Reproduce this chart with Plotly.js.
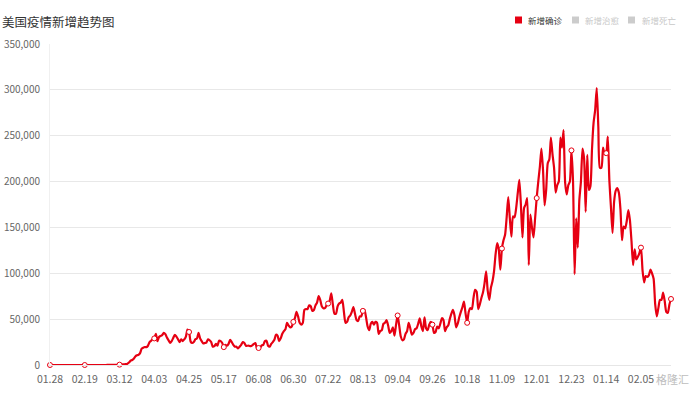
<!DOCTYPE html>
<html>
<head>
<meta charset="utf-8">
<script src="https://cdn.plot.ly/plotly-3.0.1.min.js"></script>
<style>html,body{margin:0;padding:0;background:#fff;}#chart{width:692px;height:393px;}</style>
</head>
<body>
<div id="chart"></div>
<script>
// Daily new confirmed cases (USA), 2020-01-28 .. 2021-02-24
const startDate = '2020-01-28';
const jan2020 = [0,0,1,0];
const feb2020 = [1,1,3,0,1,0,0,0,0,0,1,1,0,0,0,0,0,0,0,0,18,0,0,0,2,0,1,0,6];
const mar2020 = [8,23,20,31,70,45,117,118,179,290,292,387,513,631,764,1040,1490,2740,4630,5420,6790,9350,10500,11000,12900,17800,18900,19600,19500,21000,24900];
const apr2020 = [26500,28300,29000,34000,26000,30500,31700,32600,35000,33700,29900,27000,24000,26000,29500,33000,31000,28000,25000,28000,26000,28000,31000,38500,36000,25500,24000,25000,28000,29000];
const may2020 = [35000,29000,26000,23500,24000,24500,28000,27000,25000,20000,20500,23000,21000,26500,26000,24000,19500,22000,21000,23000,27500,25000,22000,20000,20000,18000,20000,22000,25000,24000,21000];
const jun2020 = [21000,21000,20500,21500,23000,24000,18000,18500,19000,21500,22000,26000,26500,21000,20000,23000,25000,27500,33000,32000,26000,29000,34000,37000,39000,46000,43000,41000,42000,47000];
const jul2020 = [51000,58000,53000,46000,44000,46000,60000,61000,61000,65000,64000,59000,60000,65000,68000,75000,71000,64000,62000,62000,65000,67000,70000,78000,66000,56000,56000,64000,67000,68000,71000];
const aug2020 = [58000,46000,47000,52000,54000,58000,63000,56000,49000,48000,53000,53000,59000,60000,52000,42000,38000,45000,47000,44000,47000,46000,34000,37000,38000,45000,46000,49000,43000,35000,37000];
const sep2020 = [41000,32000,44000,54000,43000,31000,27000,28000,34000,37000,46000,40000,33000,35000,39000,40000,45000,51000,42000,37000,52000,40000,38000,44000,47000,44000,35000,36000,42000,40000];
const oct2020 = [45000,51000,49000,37000,41000,43000,50000,56000,60000,54000,41000,45000,52000,58000,63000,69000,56000,46000,58000,62000,61000,73000,82000,80000,61000,66000,73000,79000,89000,102000,81000];
const nov2020 = [71000,84000,91000,102000,121000,133000,126000,104000,127000,136000,142000,161000,183000,160000,140000,162000,161000,171000,187000,202000,175000,139000,171000,175000,182000,109000,164000,150000,139000,160000];
const dec2020 = [182000,200000,216000,236000,213000,174000,191000,220000,224000,248000,230000,215000,188000,196000,200000,248000,237000,256000,199000,186000,196000,200000,234000,200000,99000,160000,128000,180000,200000,236000,225000];
const jan2021 = [167000,229000,191000,195000,235000,264000,278000,302000,260000,215000,215000,237000,230000,231000,249000,201000,172000,144000,178000,190000,193000,188000,170000,136000,151000,149000,157000,169000,158000,135000,109000];
const feb2021 = [126000,115000,118000,122000,128000,103000,90000,97000,96000,98000,104000,100000,94000,66000,53000,62000,71000,71000,79000,70000,58000,57000,66000,72000];

const seriesNames = ['新增确诊', '新增治愈', '新增死亡'];
const chartTitle = '美国疫情新增趋势图';
const watermark = '格隆汇';
const yTickVals = [0,50000,100000,150000,200000,250000,300000,350000];
const yTickText = ['0','50,000','100,000','150,000','200,000','250,000','300,000','350,000'];

const values = [].concat(jan2020,feb2020,mar2020,apr2020,may2020,jun2020,jul2020,aug2020,sep2020,oct2020,nov2020,dec2020,jan2021,feb2021);

function isoDate(i){
  const d = new Date(Date.UTC(2020,0,28) + i*86400000);
  return d.toISOString().slice(0,10);
}
const dates = values.map((v,i)=>isoDate(i));

// symbols shown at the label interval (every 22 days) and at the last point
const labelStep = 22;
const mIdx = [];
for (let i=0;i<values.length;i+=labelStep) mIdx.push(i);
if (mIdx[mIdx.length-1] !== values.length-1) mIdx.push(values.length-1);

const RED = '#e60012';
const FONT = 'Noto Sans CJK SC, Noto Sans, sans-serif';

const traces = [
  {x: dates, y: values, type:'scatter', mode:'lines', name: seriesNames[0],
   line:{color:RED, width:2.2, shape:'spline', smoothing:0.6}, hoverinfo:'x+y', showlegend:false, cliponaxis:false},
  {x: mIdx.map(i=>dates[i]), y: mIdx.map(i=>values[i]), type:'scatter', mode:'markers',
   marker:{symbol:'circle', size:5, color:'#ffffff', line:{color:RED, width:1}}, showlegend:false, hoverinfo:'skip', cliponaxis:false}
];

const layout = {
  width:692, height:393,
  margin:{l:50, r:21, t:44, b:28},
  paper_bgcolor:'#fff', plot_bgcolor:'#fff',
  font:{family:FONT, size:10, color:'#666'},
  showlegend:false,
  xaxis:{
    type:'date', range:[dates[0], dates[dates.length-1]],
    tick0:startDate, dtick:labelStep*86400000, tickformat:'%m.%d',
    showgrid:false, zeroline:false, showline:true, linecolor:'#e6e6e6', linewidth:1,
    ticks:'', ticklabelstandoff:4, tickfont:{size:10.5, color:'#666', family:FONT}
  },
  yaxis:{
    range:[0,350000], tickvals:yTickVals, ticktext:yTickText,
    showgrid:true, gridcolor:'#e8e8e8', gridwidth:1, zeroline:false,
    showline:true, linecolor:'#f0f0f0', ticks:'', ticklabelstandoff:7,
    tickfont:{size:10, color:'#666', family:FONT}
  },
  annotations:[
    {text:chartTitle, xref:'paper', yref:'paper', x:-50/621, y:1+23/321, xanchor:'left', yanchor:'middle',
     showarrow:false, font:{size:12.5, color:'#333', family:FONT}},
    {text:seriesNames[0], xref:'paper', yref:'paper', x:(526-50)/621, y:1+24/321, xanchor:'left', yanchor:'middle',
     showarrow:false, font:{size:8.5, color:'#333', family:FONT}},
    {text:seriesNames[1], xref:'paper', yref:'paper', x:(583-50)/621, y:1+24/321, xanchor:'left', yanchor:'middle',
     showarrow:false, font:{size:8.5, color:'#c8c8c8', family:FONT}},
    {text:seriesNames[2], xref:'paper', yref:'paper', x:(640-50)/621, y:1+24/321, xanchor:'left', yanchor:'middle',
     showarrow:false, font:{size:8.5, color:'#c8c8c8', family:FONT}},
    {text:watermark, xref:'paper', yref:'paper', x:(691-50)/621, y:-14/321, xanchor:'right', yanchor:'middle',
     showarrow:false, font:{size:11, color:'#bdbdbd', family:FONT}}
  ],
  shapes:[
    {type:'rect', xref:'paper', yref:'paper', x0:(515-50)/621, x1:(522-50)/621, y0:1+20.5/321, y1:1+27.5/321, fillcolor:RED, line:{width:0}},
    {type:'rect', xref:'paper', yref:'paper', x0:(572-50)/621, x1:(579-50)/621, y0:1+20.5/321, y1:1+27.5/321, fillcolor:'#cccccc', line:{width:0}},
    {type:'rect', xref:'paper', yref:'paper', x0:(628-50)/621, x1:(635-50)/621, y0:1+20.5/321, y1:1+27.5/321, fillcolor:'#cccccc', line:{width:0}}
  ]
};

Plotly.newPlot('chart', traces, layout, {displayModeBar:false, responsive:false});
</script>
</body>
</html>
